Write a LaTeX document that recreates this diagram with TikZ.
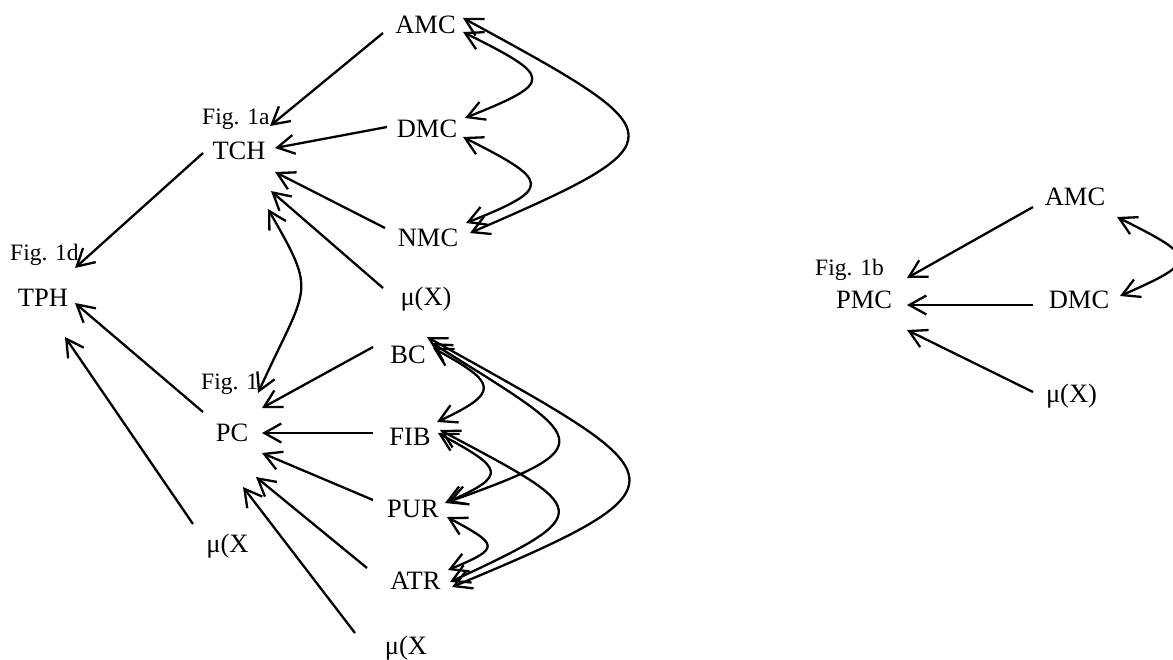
\documentclass[tikz,border=0pt]{standalone}
\usepackage{fontspec}
\setmainfont{Liberation Serif}
\usetikzlibrary{arrows.meta}
\begin{document}
\begin{tikzpicture}[x=1pt,y=-1pt,
  lbl/.style={anchor=base,inner sep=0pt,font=\fontsize{26.5}{30}\selectfont},
  fig/.style={anchor=base west,inner sep=0pt,font=\fontsize{23.5}{27}\selectfont},
  arr/.style={line width=2.3pt,-{Straight Barb[length=17pt,width=19pt]}},
  darr/.style={line width=2.3pt,{Straight Barb[length=17pt,width=19pt]}-{Straight Barb[length=17pt,width=19pt]}}]
\useasboundingbox (0,0) rectangle (1173,659);
% left diagram nodes
\node[lbl] (amc) at (425.5,33.5) {AMC};
\node[lbl] (dmc) at (427,137.5) {DMC};
\node[lbl] (nmc) at (428,246) {NMC};
\node[lbl] (mux1) at (426,305) {μ(X)};
\node[lbl] (tch) at (239,159) {TCH};
\node[fig] (figa) at (202,124) {Fig. 1a};
\node[lbl] (tph) at (43,306) {TPH};
\node[fig] (figd) at (10,260) {Fig. 1d};
\node[lbl] (pc) at (232,441) {PC};
\node[fig] (figc) at (201,389) {Fig. 1};
\node[lbl] (bc) at (408,363) {BC};
\node[lbl] (fib) at (410,445) {FIB};
\node[lbl] (pur) at (413,517) {PUR};
\node[lbl] (atr) at (415.5,589) {ATR};
\node[lbl] (mux2) at (227.5,552) {μ(X};
\node[lbl] (mux3) at (406,654) {μ(X};
% right diagram nodes
\node[lbl] (amcR) at (1075,205) {AMC};
\node[lbl] (dmcR) at (1079,308) {DMC};
\node[lbl] (muxR) at (1071.5,402) {μ(X)};
\node[lbl] (pmc) at (864,308) {PMC};
\node[fig] (figb) at (815,275) {Fig. 1b};
% straight arrows to TCH
\draw[arr] ([shift={(-42.5,-0.5)}]amc.base) -- ([shift={(31,-33)}]tch.base);
\draw[arr] ([shift={(-40,-10.5)}]dmc.base) -- ([shift={(36,-11)}]tch.base);
\draw[arr] ([shift={(-43,-18)}]nmc.base) -- ([shift={(36,13)}]tch.base);
\draw[arr] ([shift={(-43,-17)}]mux1.base) -- ([shift={(32,32)}]tch.base);
% to TPH
\draw[arr] ([shift={(-36,-6)}]tch.base) -- ([shift={(32,-38)}]tph.base);
\draw[arr] ([shift={(-29,-29)}]pc.base) -- ([shift={(32,-3)}]tph.base);
\draw[arr] ([shift={(-34.5,-28)}]mux2.base) -- ([shift={(22,31)}]tph.base);
% to PC
\draw[arr] ([shift={(-35,-16)}]bc.base) -- ([shift={(30,-33)}]pc.base);
\draw[arr] ([shift={(-37,-12)}]fib.base) -- ([shift={(30,-8)}]pc.base);
\draw[arr] ([shift={(-40,-17)}]pur.base) -- ([shift={(30,12)}]pc.base);
\draw[arr] ([shift={(-48.5,-21)}]atr.base) -- ([shift={(24,36)}]pc.base);
\draw[arr] ([shift={(-51,-21)}]mux3.base) -- ([shift={(11,46)}]pc.base);
% TCH <-> PC
\draw[darr] ([shift={(29,50)}]tch.base) .. controls +(50,87) and +(50,-110) .. ([shift={(26,-48)}]pc.base);
% top group curves
\draw[darr] ([shift={(37.5,-1.5)}]amc.base) .. controls +(90,45) and +(90,-36) .. ([shift={(38,-19.5)}]dmc.base);
\draw[darr] ([shift={(36,-0.5)}]dmc.base) .. controls +(87,44) and +(88,-35) .. ([shift={(38,-23)}]nmc.base);
\draw[darr] ([shift={(37.5,-15.5)}]amc.base) .. controls +(215,117) and +(215,-93) .. ([shift={(42,-13)}]nmc.base);
% bottom group curves
\draw[darr] ([shift={(25,-15)}]bc.base) .. controls +(64,35) and +(64,-30) .. ([shift={(27,-23)}]fib.base);
\draw[darr] ([shift={(24,-20)}]bc.base) .. controls +(155,97) and +(160,-57) .. ([shift={(35,-15)}]pur.base);
\draw[darr] ([shift={(19,-26)}]bc.base) .. controls +(250,140) and +(253,-105) .. ([shift={(36.5,-2)}]atr.base);
\draw[darr] ([shift={(28,-12)}]fib.base) .. controls +(64,35) and +(65,-28) .. ([shift={(32,-14)}]pur.base);
\draw[darr] ([shift={(30,-15)}]fib.base) .. controls +(150,80) and +(151,-70) .. ([shift={(34.5,-7)}]atr.base);
\draw[darr] ([shift={(34,0)}]pur.base) .. controls +(52,28) and +(53,-22) .. ([shift={(32.5,-19)}]atr.base);
% right diagram arrows
\draw[arr] ([shift={(-42,2)}]amcR.base) -- ([shift={(43,-30)}]pmc.base);
\draw[arr] ([shift={(-46,-3)}]dmcR.base) -- ([shift={(43,-3)}]pmc.base);
\draw[arr] ([shift={(-38.5,-10)}]muxR.base) -- ([shift={(43,22)}]pmc.base);
\draw[darr] ([shift={(42,12)}]amcR.base) .. controls +(80,40) and +(80,-35) .. ([shift={(41,-12)}]dmcR.base);
\end{tikzpicture}
\end{document}
